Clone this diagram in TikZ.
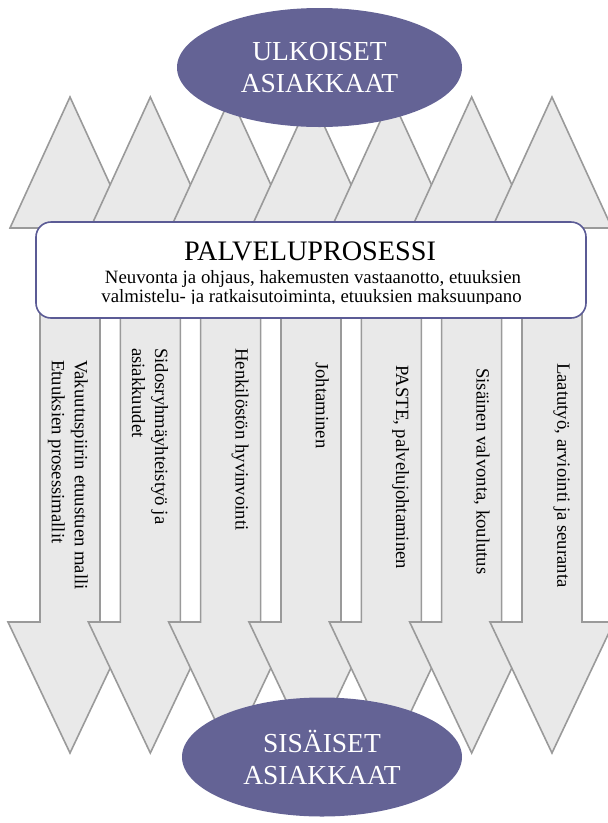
\documentclass[tikz,border=0pt]{standalone}
\usepackage{fontspec}
\setmainfont{Liberation Serif}
\usetikzlibrary{shapes.geometric}
\definecolor{arrowfill}{HTML}{E9E9E9}
\definecolor{arrowline}{HTML}{9A9A9A}
\definecolor{clientpurple}{HTML}{646395}
\definecolor{boxline}{HTML}{5B5B95}
\begin{document}
\begin{tikzpicture}[x=1pt,y=-1pt,
  duoarrow/.style={fill=arrowfill, draw=arrowline, line width=1.6pt, line join=miter},
  client/.style={ellipse, fill=clientpurple, inner sep=0pt, text=white, align=center,
    minimum height=119pt, font=\fontsize{27.5}{32}\selectfont},
  procbox/.style={draw=boxline, line width=1.6pt, fill=white, rounded corners=15pt,
    minimum width=550pt, minimum height=96pt, inner sep=0pt},
  sidelabel/.style={rotate=-90, anchor=north west, inner sep=0pt, align=left,
    font=\fontsize{18.7}{23}\selectfont},
  boxtext/.style={anchor=base, inner sep=0pt, font=\fontsize{18.8}{18.4}\selectfont},
]
\useasboundingbox (0,0) rectangle (608,823);

% seven double-headed arrows, each drawn over its left neighbour
\foreach \i in {0,...,6}{
  \pgfmathsetmacro{\cx}{70+80.33*\i}
  \draw[duoarrow] (\cx,97) -- (\cx+60,228) -- (\cx+30,228) -- (\cx+30,622)
    -- (\cx+62,622) -- (\cx,753) -- (\cx-62,622) -- (\cx-30,622)
    -- (\cx-30,228) -- (\cx-60,228) -- cycle;
}

% labels running down the arrow shafts
\node[sidelabel] (l1) at (88,360) {Vakuutuspiirin etuustuen malli\\Etuuksien prosessimallit};
\node[sidelabel] (l2) at (168.3,348) {Sidosryhmäyhteistyö ja\\asiakkuudet};
\node[sidelabel] (l3) at (248.7,348) {Henkilöstön hyvinvointi};
\node[sidelabel] (l4) at (329,362) {Johtaminen};
\node[sidelabel] (l5) at (409.3,365) {PASTE, palvelujohtaminen};
\node[sidelabel] (l6) at (489.7,368) {Sisäinen valvonta, koulutus};
\node[sidelabel] (l7) at (570,363) {Laatutyö, arviointi ja seuranta};

% service process box; its last text line is cut off by the inner padding
\node[procbox] (proc) at (311,270) {};
\node[anchor=base, inner sep=0pt, font=\fontsize{28.2}{32}\selectfont] (title) at (310,260) {PALVELUPROSESSI};
\node[boxtext] (sub1) at (313,283.3) {Neuvonta ja ohjaus, hakemusten vastaanotto, etuuksien};
\begin{scope}
  \clip (36,222) rectangle (586,303);
  \node[boxtext] (sub2) at (311.5,302.5) {valmistelu- ja ratkaisutoiminta, etuuksien maksuunpano};
\end{scope}

% customer ellipses
\node[client, minimum width=285pt] (ext) at (319.5,67.5) {ULKOISET\\ASIAKKAAT};
\node[client, minimum width=280pt] (int) at (322,757) {SISÄISET\\ASIAKKAAT};
\end{tikzpicture}
\end{document}
